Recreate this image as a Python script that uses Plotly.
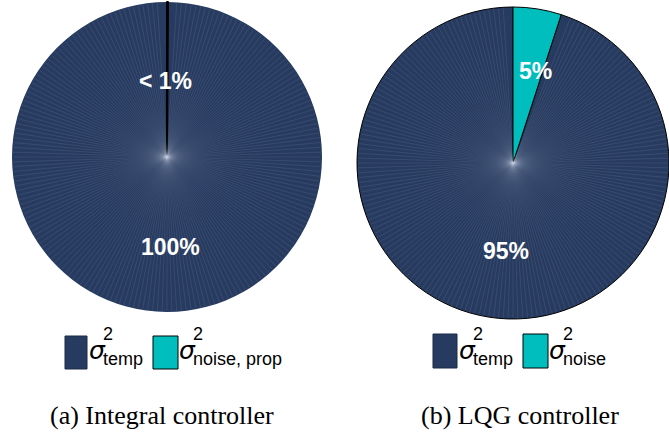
import math
import plotly.graph_objects as go

W, H = 669, 432

# ---- data ----
left_labels = ["temp", "noise, prop"]
left_values = [99.9, 0.1]
left_text = ["100%", "< 1%"]

right_labels = ["temp", "noise"]
right_values = [95, 5]
right_text = ["95%", "5%"]

captions = ["(a) Integral controller", "(b) LQG controller"]

DARK = "#273B60"
TEAL = "#00BEBE"


def px(x):
    return x / W


def py(y):
    return 1 - y / H


def rot(values):
    # start so that the (last-drawn) small slice sits just right of 12 o'clock
    return 360.0 * values[1] / sum(values)


fig = go.Figure()

fig.add_trace(go.Pie(
    labels=left_labels, values=left_values, sort=False, direction="clockwise",
    rotation=rot(left_values), textinfo="none", hoverinfo="label+percent",
    marker=dict(colors=[DARK, TEAL], line=dict(color=[DARK, "#000000"], width=[0, 2])),
    domain=dict(x=[px(12), px(322)], y=[py(312), py(2)]),
    showlegend=False,
))

fig.add_trace(go.Pie(
    labels=right_labels, values=right_values, sort=False, direction="clockwise",
    rotation=rot(right_values), textinfo="none", hoverinfo="label+percent",
    marker=dict(colors=[DARK, TEAL], line=dict(color="#000000", width=1)),
    domain=dict(x=[px(357), px(669)], y=[py(319), py(7)]),
    showlegend=False,
))

annotations = []
shapes = []


# faint radial rendering streaks seen in the reference (decoration only)
def streaks(cx, cy, r, a_from, a_to):
    n = 200
    for k in range(n):
        a = 360.0 * k / n
        if not (a_from <= a <= a_to):
            continue
        t = math.radians(a)
        shapes.append(dict(
            type="line", xref="paper", yref="paper", layer="above",
            x0=px(cx), y0=py(cy),
            x1=px(cx + (r - 1) * math.sin(t)), y1=py(cy - (r - 1) * math.cos(t)),
            line=dict(color="rgba(200,210,230,0.16)", width=0.7),
        ))


streaks(167, 157, 155, 2, 358)
streaks(513, 163, 156, 20, 358)

# percentage labels
pct_pos = [
    (left_text[1], 165, 81),
    (left_text[0], 170, 247),
    (right_text[1], 535, 71),
    (right_text[0], 506, 251),
]
for t, x, y in pct_pos:
    annotations.append(dict(
        x=px(x), y=py(y), xref="paper", yref="paper", text=f"<b>{t}</b>",
        showarrow=False, xanchor="center", yanchor="middle",
        font=dict(family="Liberation Sans, Arial", size=23, color="white"),
    ))


# legends (handles + stacked sigma labels)
def legend_entry(x0, x1, y0, y1, color, border, sx, subtext):
    shapes.append(dict(
        type="rect", xref="paper", yref="paper",
        x0=px(x0), x1=px(x1), y0=py(y1), y1=py(y0),
        fillcolor=color, line=dict(color=border, width=1),
    ))
    annotations.append(dict(
        x=px(sx), y=py(350), xref="paper", yref="paper", text="<i>σ</i>",
        showarrow=False, xanchor="left", yanchor="middle", borderpad=0,
        font=dict(family="DejaVu Sans", size=25, color="black"),
    ))
    annotations.append(dict(
        x=px(sx + 14), y=py(334), xref="paper", yref="paper", text="2",
        showarrow=False, xanchor="left", yanchor="middle", borderpad=0,
        font=dict(family="Liberation Sans, Arial", size=18, color="black"),
    ))
    annotations.append(dict(
        x=px(sx + 14), y=py(359), xref="paper", yref="paper", text=subtext,
        showarrow=False, xanchor="left", yanchor="middle", borderpad=0,
        font=dict(family="Liberation Sans, Arial", size=18, color="black"),
    ))


legend_entry(65, 87, 336, 369, DARK, "#1a2a45", 88, left_labels[0])
legend_entry(153, 178, 336, 369, TEAL, "#000000", 178, left_labels[1])
legend_entry(433, 457, 334, 368, DARK, "#1a2a45", 458, right_labels[0])
legend_entry(523, 548, 334, 368, TEAL, "#000000", 548, right_labels[1])

# captions
for t, x in zip(captions, [162, 520]):
    annotations.append(dict(
        x=px(x), y=py(415), xref="paper", yref="paper", text=t,
        showarrow=False, xanchor="center", yanchor="middle",
        font=dict(family="Liberation Serif", size=26, color="black"),
    ))

fig.update_layout(
    width=W, height=H, margin=dict(l=0, r=0, t=0, b=0),
    paper_bgcolor="white", plot_bgcolor="white",
    annotations=annotations, shapes=shapes,
)

fig.write_html(
    "out.html",
    config={"displayModeBar": False},
    post_script="document.body.style.margin='0';document.body.style.overflow='hidden';",
)
